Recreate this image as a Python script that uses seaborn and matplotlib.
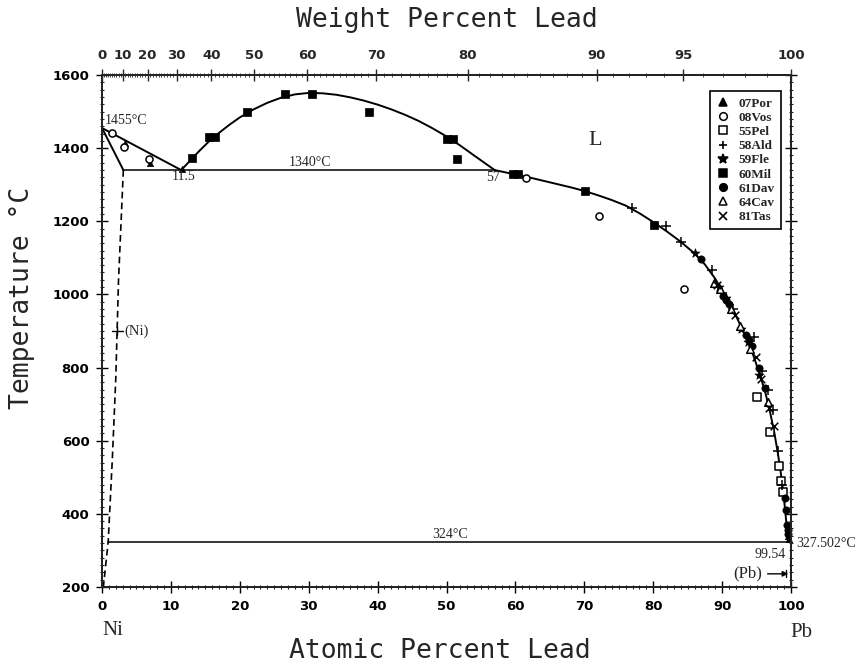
import numpy as np
import pandas as pd
import matplotlib
matplotlib.use("Agg")
import matplotlib.pyplot as plt
import seaborn as sns
from matplotlib.lines import Line2D
from matplotlib.ticker import MultipleLocator

# ---------------- data ----------------
# phase boundaries (atomic % Pb, temperature in C)
liq_ni_x = [0.0, 11.5]
liq_ni_t = [1455, 1340]
sol_ni_x = [0.0, 3.1]
sol_ni_t = [1455, 1340]
solvus_ni_x = [3.1, 2.4, 2.0, 1.5, 0.9, 0.2]
solvus_ni_t = [1340, 1040, 770, 550, 324, 200]
gap_x = [11.5, 12.5, 14, 15.5, 17, 18.5, 20, 22, 24, 26, 28, 30, 32, 34, 36, 38, 40,
         42, 44, 46, 48, 50, 52, 54, 55.5, 57]
gap_t = [1340, 1360, 1390, 1418, 1442, 1464, 1484, 1506, 1524, 1538, 1547, 1551, 1550,
         1546, 1539, 1530, 1519, 1506, 1491, 1474, 1454, 1432, 1407, 1380, 1360, 1340]
liq_pb_x = [57, 58.5, 60, 62, 64, 66, 68, 70, 72, 74, 76, 78, 80, 82, 84, 86, 87.5, 89,
            90.5, 92, 93.5, 94.5, 95.5, 96.3, 97, 97.6, 98.1, 98.5, 98.8, 99.1, 99.3,
            99.45, 99.54, 100]
liq_pb_t = [1340, 1334, 1328, 1320, 1311, 1302, 1293, 1283, 1271, 1258, 1243, 1222, 1198,
            1172, 1144, 1112, 1082, 1043, 995, 942, 882, 835, 780, 730, 675, 620, 565,
            515, 470, 420, 380, 350, 324, 327.502]
mono_x = [3.1, 57.0]
mono_t = [1340, 1340]
eut_x = [0.9, 99.54]
eut_t = [324, 324]

# experimental data sets
series_names = ["07Por", "08Vos", "55Pel", "58Ald", "59Fle", "60Mil", "61Dav", "64Cav", "81Tas"]
por_x = [3.3, 6.9, 11.6, 99.6, 99.7]
por_t = [1414, 1360, 1342, 340, 330]
vos_x = [1.5, 3.2, 6.8, 61.6, 72.1, 84.4]
vos_t = [1442, 1404, 1371, 1318, 1214, 1015]
pel_x = [95.1, 97.0, 98.3, 98.5, 98.8]
pel_t = [719, 625, 531, 490, 460]
ald_x = [76.9, 81.9, 84.0, 88.6, 90.0, 91.6, 94.6, 95.8, 96.6, 97.4, 98.1, 98.7]
ald_t = [1236, 1188, 1144, 1067, 1005, 960, 884, 790, 738, 683, 572, 480]
fle_x = [86.0, 89.6, 90.6, 92.8, 93.7, 95.4]
fle_t = [1112, 1020, 990, 905, 870, 780]
mil_x = [13.0, 15.6, 16.4, 21.0, 26.6, 30.5, 38.7, 50.0, 51.0, 51.5, 59.6, 60.4, 70.1, 80.1]
mil_t = [1372, 1431, 1431, 1498, 1548, 1548, 1498, 1425, 1425, 1369, 1328, 1328, 1283, 1190]
dav_x = [86.9, 90.2, 90.6, 91.0, 93.4, 93.9, 94.4, 95.3, 96.2, 99.1, 99.3, 99.45, 99.5, 99.55]
dav_t = [1097, 995, 985, 975, 890, 875, 860, 800, 745, 443, 410, 370, 355, 345]
cav_x = [88.8, 89.7, 91.3, 92.6, 94.1, 96.6]
cav_t = [1031, 1015, 960, 915, 850, 705]
tas_x = [89.2, 91.8, 94.9, 95.6, 96.8, 97.6]
tas_t = [1025, 945, 830, 770, 690, 640]

bottom_ticks = [0, 10, 20, 30, 40, 50, 60, 70, 80, 90, 100]
left_ticks = [200, 400, 600, 800, 1000, 1200, 1400, 1600]
top_wt_ticks = [0, 10, 20, 30, 40, 50, 60, 70, 80, 90, 95, 100]

M_NI, M_PB = 58.69, 207.2


def wt2at(w):
    w = np.asarray(w, dtype=float)
    a = w / M_PB
    b = (100 - w) / M_NI
    return 100 * a / (a + b)


# ---------------- figure ----------------
sns.set_style("ticks")
plt.rcParams["font.family"] = ["DejaVu Sans"]
fig = plt.figure(figsize=(8.64, 6.68), dpi=100)
ax = fig.add_axes([102 / 864, 1 - 587 / 668, 689 / 864, 512 / 668])

lw = 1.4
for xs, ts in [(liq_ni_x, liq_ni_t), (sol_ni_x, sol_ni_t), (gap_x, gap_t), (liq_pb_x, liq_pb_t)]:
    sns.lineplot(x=xs, y=ts, sort=False, estimator=None, color="black", lw=lw, ax=ax)
sns.lineplot(x=mono_x, y=mono_t, sort=False, estimator=None, color="black", lw=1.1, ax=ax)
sns.lineplot(x=eut_x, y=eut_t, sort=False, estimator=None, color="black", lw=1.1, ax=ax)
sns.lineplot(x=solvus_ni_x, y=solvus_ni_t, sort=False, estimator=None, color="black", lw=1.2,
             ax=ax, linestyle=(0, (4, 2.5)))

styles = {
    "07Por": dict(marker="^", color="black", edgecolor="black", s=22),
    "08Vos": dict(marker="o", color="white", edgecolor="black", s=26, linewidth=1.1),
    "55Pel": dict(marker="s", color="white", edgecolor="black", s=34, linewidth=1.1),
    "58Ald": dict(marker="+", color="black", s=45, linewidth=1.1),
    "59Fle": dict(marker="*", color="black", edgecolor="black", s=45),
    "60Mil": dict(marker="s", color="black", edgecolor="black", s=40),
    "61Dav": dict(marker="o", color="black", edgecolor="black", s=28),
    "64Cav": dict(marker="^", color="white", edgecolor="black", s=30, linewidth=1.1),
    "81Tas": dict(marker="x", color="black", s=30, linewidth=1.1),
}
series_data = {
    "07Por": (por_x, por_t), "08Vos": (vos_x, vos_t), "55Pel": (pel_x, pel_t),
    "58Ald": (ald_x, ald_t), "59Fle": (fle_x, fle_t), "60Mil": (mil_x, mil_t),
    "61Dav": (dav_x, dav_t), "64Cav": (cav_x, cav_t), "81Tas": (tas_x, tas_t),
}
for name in series_names:
    xs, ts = series_data[name]
    sns.scatterplot(x=xs, y=ts, ax=ax, legend=False, zorder=3, clip_on=False, **styles[name])

ax.set_xlim(0, 100)
ax.set_ylim(200, 1600)
ax.set_xlabel("")
ax.set_ylabel("")
for sp in ax.spines.values():
    sp.set_visible(True)
    sp.set_linewidth(1.3)
    sp.set_color("black")

ax.set_xticks(bottom_ticks)
ax.set_yticks(left_ticks)
ax.xaxis.set_minor_locator(MultipleLocator(1))
ax.yaxis.set_minor_locator(MultipleLocator(20))
ax.tick_params(axis="both", which="major", direction="inout", length=8, width=1.0,
               labelsize=9.5, pad=5, right=True, top=False, colors="black")
ax.tick_params(axis="both", which="minor", direction="inout", length=3, width=0.8,
               right=True, top=False)
for lab in ax.get_xticklabels() + ax.get_yticklabels():
    lab.set_fontweight("bold")

# top axis: weight percent
ax2 = ax.twiny()
ax2.set_xlim(0, 100)
ax2.set_xticks(wt2at(top_wt_ticks))
ax2.set_xticklabels([str(w) for w in top_wt_ticks], fontsize=9.5, fontweight="bold")
ax2.set_xticks(wt2at(np.arange(1, 100, 1)), minor=True)
ax2.tick_params(axis="x", which="major", direction="inout", length=8, width=1.0, pad=5)
ax2.tick_params(axis="x", which="minor", direction="inout", length=3, width=0.6)
for sp in ax2.spines.values():
    sp.set_linewidth(1.3)

# legend
handles = []
for name in series_names:
    st = styles[name]
    m = st["marker"]
    if m in ("+", "x"):
        h = Line2D([], [], linestyle="none", marker=m, color="black", markersize=6, markeredgewidth=1.2)
    else:
        h = Line2D([], [], linestyle="none", marker=m, markerfacecolor=st["color"],
                   markeredgecolor="black", markersize=5.5 if m != "*" else 7, markeredgewidth=1.1)
    handles.append(h)
leg = ax.legend(handles, series_names, loc="upper right", bbox_to_anchor=(0.985, 0.968),
                frameon=True, fancybox=False, edgecolor="black", framealpha=1,
                prop={"family": "Liberation Serif", "weight": "bold", "size": 9.5},
                handlelength=1.0, handletextpad=0.7, labelspacing=0.15, borderpad=0.45,
                borderaxespad=0)
leg.get_frame().set_linewidth(1.2)

# annotations
serif = "Liberation Serif"
ax.text(0.4, 1457, "1455°C", family=serif, fontsize=10, ha="left", va="bottom")
ax.text(11.8, 1322, "11.5", family=serif, fontsize=10, ha="center", va="center")
ax.text(30.2, 1342, "1340°C", family=serif, fontsize=10, ha="center", va="bottom")
ax.text(56.8, 1320, "57", family=serif, fontsize=10, ha="center", va="center")
ax.text(71.6, 1422, "L", family=serif, fontsize=16, ha="center", va="center")
ax.text(50.5, 326, "324°C", family=serif, fontsize=10, ha="center", va="bottom")
ax.text(99.2, 288, "99.54", family=serif, fontsize=10, ha="right", va="center")
ax.text(100.8, 318, "327.502°C", family=serif, fontsize=10, ha="left", va="center")

# (Ni) marker
ax.plot([1.4, 3.0], [900, 900], color="black", lw=1.0)
ax.plot([2.2, 2.2], [888, 912], color="black", lw=1.0)
ax.text(3.2, 900, "(Ni)", family=serif, fontsize=10.5, ha="left", va="center")
# (Pb) marker
ax.text(95.8, 236, "(Pb)", family=serif, fontsize=12, ha="right", va="center")
ax.annotate("", xy=(100, 236), xytext=(96.2, 236),
            arrowprops=dict(arrowstyle="-|>", color="black", lw=1.0, mutation_scale=8),
            annotation_clip=False)
ax.plot([99.3, 99.3], [226, 246], color="black", lw=1.0, clip_on=False)

# Ni / Pb labels under axis
ax.text(1.5, -0.085, "Ni", transform=ax.get_xaxis_transform(), family=serif, fontsize=15,
        ha="center", va="center")
ax.text(101.5, -0.088, "Pb", transform=ax.get_xaxis_transform(), family=serif, fontsize=15,
        ha="center", va="center")

# axis titles
mono = "DejaVu Sans Mono"
fig.text(447 / 864, 1 - 20 / 668, "Weight Percent Lead", family=mono, fontsize=19,
         ha="center", va="center")
fig.text(440 / 864, 1 - 651 / 668, "Atomic Percent Lead", family=mono, fontsize=19,
         ha="center", va="center")
fig.text(22 / 864, 1 - 298 / 668, "Temperature °C", family=mono, fontsize=19,
         ha="center", va="center", rotation=90)

fig.savefig("out.png", dpi=100)
